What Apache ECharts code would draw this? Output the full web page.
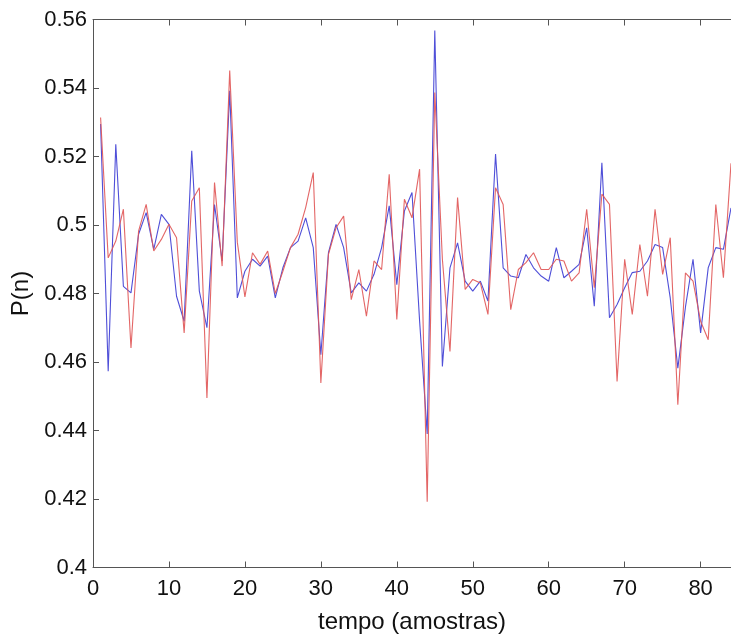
<!DOCTYPE html>
<html>
<head>
<meta charset="utf-8">
<script src="https://cdn.jsdelivr.net/npm/echarts@6/dist/echarts.min.js"></script>
<style>
html,body{margin:0;padding:0;background:#fff;}
#chart{width:731px;height:639px;}
</style>
</head>
<body>
<div id="chart"></div>
<script>
// sample index (tempo)
const samples = [1,2,3,4,5,6,7,8,9,10,11,12,13,14,15,16,17,18,19,20,
  21,22,23,24,25,26,27,28,29,30,31,32,33,34,35,36,37,38,39,40,
  41,42,43,44,45,46,47,48,49,50,51,52,53,54,55,56,57,58,59,60,
  61,62,63,64,65,66,67,68,69,70,71,72,73,74,75,76,77,78,79,80,
  81,82,83,84];

// blue series P(n)
const blueValues = [0.5295,0.4573,0.5236,0.4821,0.4802,0.4973,0.5036,0.4929,0.5031,0.5002,
  0.4792,0.4719,0.5217,0.4807,0.4700,0.5060,0.4895,0.5392,0.4787,0.4865,
  0.4900,0.4880,0.4909,0.4787,0.4875,0.4934,0.4953,0.5021,0.4934,0.4621,
  0.4919,0.5002,0.4934,0.4802,0.4831,0.4807,0.4856,0.4934,0.5056,0.4826,
  0.5041,0.5095,0.4720,0.4390,0.5568,0.4587,0.4875,0.4948,0.4836,0.4807,
  0.4836,0.4778,0.5207,0.4875,0.4851,0.4846,0.4914,0.4875,0.4851,0.4836,
  0.4934,0.4846,0.4865,0.4885,0.4992,0.4763,0.5182,0.4729,0.4768,0.4817,
  0.4861,0.4865,0.4895,0.4943,0.4934,0.4787,0.4582,0.4760,0.4900,0.4685,
  0.4875,0.4934,0.4929,0.5050];

// red series P(n)
const redValues = [0.5314,0.4904,0.4953,0.5046,0.4641,0.4982,0.5060,0.4924,0.4958,0.5002,
  0.4963,0.4685,0.5070,0.5109,0.4495,0.5124,0.4880,0.5451,0.4950,0.4790,
  0.4919,0.4885,0.4924,0.4800,0.4865,0.4934,0.4973,0.5051,0.5153,0.4539,
  0.4914,0.4992,0.5026,0.4782,0.4870,0.4734,0.4895,0.4870,0.5148,0.4724,
  0.5075,0.5021,0.5163,0.4192,0.5387,0.4900,0.4631,0.5080,0.4812,0.4841,
  0.4831,0.4739,0.5109,0.5060,0.4753,0.4870,0.4890,0.4919,0.4870,0.4870,
  0.4900,0.4895,0.4836,0.4860,0.5046,0.4817,0.5090,0.5060,0.4543,0.4900,
  0.4739,0.4943,0.4792,0.5046,0.4856,0.4963,0.4475,0.4860,0.4836,0.4719,
  0.4665,0.5060,0.4846,0.5180];

const xMin = 0, xMax = 84, xStep = 10;
const yMin = 0.40, yMax = 0.56, yStep = 0.02;
const xTitle = 'tempo (amostras)';
const yTitle = 'P(n)';

const toPairs = vals => samples.map((s, i) => [s, vals[i]]);

const FONT = "'Liberation Sans', Arial, Helvetica, sans-serif";
const axisColor = '#555';
const textColor = '#111';

const chart = echarts.init(document.getElementById('chart'), null, {renderer: 'canvas'});
chart.setOption({
  animation: false,
  backgroundColor: '#ffffff',
  grid: {left: 93, top: 19.5, right: 0, bottom: 71.5, containLabel: false, outerBoundsMode: 'none'},
  xAxis: [{
    type: 'value', min: xMin, max: xMax, interval: xStep,
    position: 'bottom',
    name: xTitle, nameLocation: 'middle', nameGap: 43,
    nameTextStyle: {fontFamily: FONT, fontSize: 24, color: textColor},
    axisLine: {show: true, lineStyle: {color: axisColor, width: 1}},
    axisTick: {show: true, inside: true, length: 6, lineStyle: {color: axisColor}},
    axisLabel: {fontFamily: FONT, fontSize: 22, color: textColor, margin: 10,
      formatter: v => (v > 80 ? '' : String(v))},
    splitLine: {show: false}
  }, {
    type: 'value', min: xMin, max: xMax, interval: xStep,
    position: 'top',
    axisLine: {show: true, lineStyle: {color: axisColor, width: 1}},
    axisTick: {show: true, inside: true, length: 6, lineStyle: {color: axisColor}},
    axisLabel: {show: false},
    splitLine: {show: false}
  }],
  yAxis: [{
    type: 'value', min: yMin, max: yMax, interval: yStep,
    position: 'left',
    name: yTitle, nameLocation: 'middle', nameGap: 60, nameRotate: 90,
    nameTextStyle: {fontFamily: FONT, fontSize: 24, color: textColor},
    axisLine: {show: true, lineStyle: {color: axisColor, width: 1}},
    axisTick: {show: true, inside: true, length: 6, lineStyle: {color: axisColor}},
    axisLabel: {fontFamily: FONT, fontSize: 22, color: textColor, margin: 6,
      formatter: v => String(parseFloat(v.toFixed(2)))},
    splitLine: {show: false}
  }],
  series: [{
    name: 'blue', type: 'line', xAxisIndex: 0, yAxisIndex: 0,
    data: toPairs(blueValues),
    showSymbol: false, symbol: 'none',
    lineStyle: {color: '#4f4fd8', width: 1.1},
    z: 2
  }, {
    name: 'red', type: 'line', xAxisIndex: 0, yAxisIndex: 0,
    data: toPairs(redValues),
    showSymbol: false, symbol: 'none',
    lineStyle: {color: '#e05555', width: 1.1, opacity: 0.9},
    z: 3
  }]
});
</script>
</body>
</html>
